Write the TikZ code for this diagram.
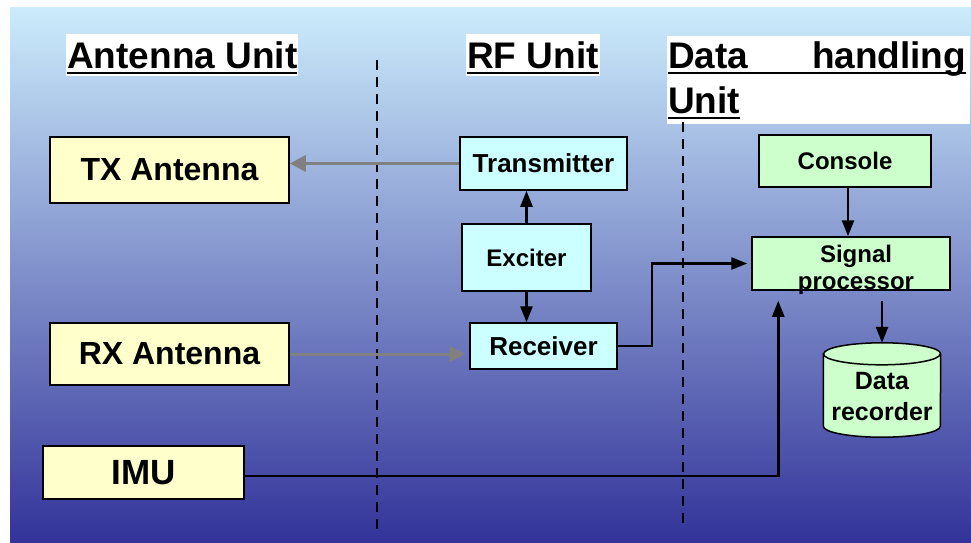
\documentclass[tikz,border=0pt]{standalone}
\usepackage{fontspec}
\setmainfont{Liberation Sans}
\usetikzlibrary{arrows.meta,positioning,calc,shapes.geometric}
\definecolor{bgtop}{RGB}{204,236,252}
\definecolor{bgbot}{RGB}{51,51,153}
\definecolor{antfill}{RGB}{255,255,204}
\definecolor{rffill}{RGB}{204,255,255}
\definecolor{dhfill}{RGB}{204,255,204}
\definecolor{linkgray}{RGB}{128,128,128}
\newsavebox{\ulbox}
\newcommand{\unitul}[1]{\leavevmode\sbox{\ulbox}{#1}\rlap{\usebox{\ulbox}}\rule[-6pt]{\wd\ulbox}{2.5pt}}
\tikzset{
  hdrbase/.style={fill=white, inner xsep=1pt, inner ysep=2pt,
              font=\fontsize{37}{45}\selectfont\bfseries},
  hdr/.style={hdrbase, text height=32pt, text depth=6pt},
  fsz/.style 2 args={font=\bfseries\fontsize{#1}{#2}\selectfont},
  blk/.style={draw=black, line width=1.5pt, align=center, inner sep=0pt},
  antbox/.style={blk, fill=antfill},
  rfbox/.style={blk, fill=rffill},
  dhbox/.style={blk, fill=dhfill},
  drcap/.style={x radius=58.5pt, y radius=11pt},
  sep/.style={line width=1.5pt, dash pattern=on 10pt off 7pt},
  sigarr/.style={-{Triangle[length=16pt,width=12pt]}, line width=2.5pt},
  rfarr/.style={-{Triangle[length=16pt,width=16pt]}, linkgray, line width=3pt},
}
\begin{document}
\begin{tikzpicture}[x=1pt, y=-1pt]
  \useasboundingbox (0,0) rectangle (971,542);
  \shade[top color=bgtop, bottom color=bgbot] (10,7) rectangle (971,542);

  % unit headings
  \node[hdr, anchor=base west] (hant) at (66,68) {\unitul{Antenna Unit}};
  \node[hdr, anchor=base west] (hrf) at (466,68) {\unitul{RF Unit}};
  \node[hdrbase, anchor=north west, inner ysep=5pt, align=left, text width=301pt]
    (hdata) at (667,36) {\unitul{\makebox[298pt]{Data\hfill handling}}\\\unitul{Unit}};

  % unit borders
  \draw[sep] (377,60) -- (377,530);
  \draw[sep] (683,122) -- (683,525);

  % antenna unit
  \node[antbox, fsz={32}{38}, minimum width=239pt, minimum height=66pt] (txant) at (169.5,170) {TX Antenna};
  \node[antbox, fsz={32}{38}, minimum width=239pt, minimum height=62pt] (rxant) at (169.5,354) {RX Antenna};
  \node[antbox, fsz={35}{40}, minimum width=201pt, minimum height=53pt] (imu) at (143.5,472.5) {IMU};

  % rf unit
  \node[rfbox, fsz={26}{30}, minimum width=167pt, minimum height=53pt] (tx) at (543.5,163.5) {Transmitter};
  \node[rfbox, fsz={24}{28}, minimum width=129pt, minimum height=67pt] (exc) at (526.5,257.5) {Exciter};
  \node[rfbox, fsz={26}{30}, minimum width=147pt, minimum height=46pt] (rec) at (543.5,346) {Receiver};

  % data handling unit
  \node[dhbox, fsz={24}{28}, minimum width=172pt, minimum height=52pt] (con) at (845,161) {Console};
  \node[dhbox, minimum width=198pt, minimum height=53pt] (sig) at (851,263.5) {};
  \node[fsz={24}{27}, align=center, inner sep=0pt] (sigtxt) at ([xshift=5pt,yshift=-6.5pt]sig.center) {Signal\\processor};
  \node[inner sep=0pt, minimum width=117pt, minimum height=94pt] (dr) at (882,390) {};
  \draw[dhbox] ([yshift=-11pt]dr.north west) -- ([yshift=11pt]dr.south west)
    arc[start angle=180, end angle=360, drcap] -- ([yshift=-11pt]dr.north east)
    arc[start angle=0, end angle=180, drcap] -- cycle;
  \draw[blk] ([yshift=-11pt]dr.north west) arc[start angle=180, end angle=360, drcap];
  \node[fsz={25}{31}, align=center, inner sep=0pt] (drtxt) at ([yshift=-7pt]dr.center) {Data\\recorder};

  % links
  \draw[rfarr] (tx.west) -- (tx.west -| txant.east);
  \draw[rfarr] (rxant.east) -- ([xshift=-4pt]rxant.east -| rec.west);
  \draw[sigarr] (exc.north) -- (exc.north |- tx.south);
  \draw[sigarr] (exc.south) -- (exc.south |- rec.north);
  \draw[sigarr] (rec.east) -- ++(34,0) |- ([xshift=-4pt]sig.west);
  \draw[sigarr] ([xshift=3pt]con.south) -- ([xshift=3pt]con.south |- sig.north);
  \draw[sigarr] ([yshift=-10pt]sig.south -| dr.north) -- (dr.north);
  \draw[sigarr] ([yshift=-3.5pt]imu.east) -| ([xshift=27pt,yshift=-10pt]sig.south west);
\end{tikzpicture}
\end{document}
